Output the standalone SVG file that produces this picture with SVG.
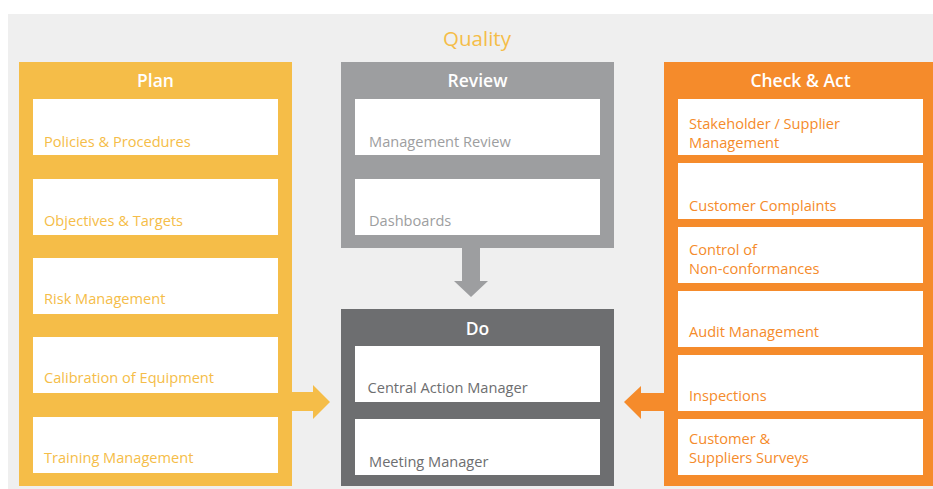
<svg xmlns="http://www.w3.org/2000/svg" width="933" height="489" viewBox="0 0 933 489">
<style>
text{font-family:"Open Sans","Liberation Sans",sans-serif}
.title{font-size:20.5px;fill:#F5BD48;text-anchor:middle}
.hdr{font-size:17.5px;font-weight:600;fill:#FFFFFF;text-anchor:middle}
.card{fill:#FFFFFF}
.t{font-size:14.6px}
.ty{fill:#F5BD48}
.tg{fill:#9D9EA0}
.td{fill:#6D6E70}
.to{fill:#F58B2B}
</style>
<rect x="8" y="14" width="925" height="475" fill="#EFEFEF"/>
<text class="title" x="477" y="46">Quality</text>

<g id="connectors">
  <polygon points="292,392 313,392 313,385 330,402 313,419 313,411 292,411" fill="#F5BD48"/>
  <polygon points="462,248 480,248 480,281 488,281 471,297 454,281 462,281" fill="#9D9EA0"/>
  <polygon points="664,393 641,393 641,386 624,402 641,419 641,411 664,411" fill="#F58B2B"/>
</g>

<g id="plan">
  <rect x="19" y="62" width="273" height="424" fill="#F5BD48"/>
  <text class="hdr" x="155.5" y="86.5">Plan</text>
  <g id="plan-1"><rect class="card" x="33" y="99" width="245" height="56"/><text class="t ty" x="44" y="146.5">Policies &amp; Procedures</text></g>
  <g id="plan-2"><rect class="card" x="33" y="179" width="245" height="56"/><text class="t ty" x="44" y="225.5">Objectives &amp; Targets</text></g>
  <g id="plan-3"><rect class="card" x="33" y="258" width="245" height="56"/><text class="t ty" x="44" y="304">Risk Management</text></g>
  <g id="plan-4"><rect class="card" x="33" y="337" width="245" height="56"/><text class="t ty" x="44" y="383">Calibration of Equipment</text></g>
  <g id="plan-5"><rect class="card" x="33" y="417" width="245" height="56"/><text class="t ty" x="44" y="463">Training Management</text></g>
</g>

<g id="review">
  <rect x="341" y="62" width="273" height="186" fill="#9D9EA0"/>
  <text class="hdr" x="477.5" y="86.5">Review</text>
  <g id="review-1"><rect class="card" x="355" y="99" width="245" height="56"/><text class="t tg" x="369" y="146.5">Management Review</text></g>
  <g id="review-2"><rect class="card" x="355" y="179" width="245" height="56"/><text class="t tg" x="369" y="225.5">Dashboards</text></g>
</g>

<g id="do">
  <rect x="341" y="309" width="273" height="177" fill="#6D6E70"/>
  <text class="hdr" x="477.5" y="334.5">Do</text>
  <g id="do-1"><rect class="card" x="355" y="346" width="245" height="56"/><text class="t td" x="367.5" y="393">Central Action Manager</text></g>
  <g id="do-2"><rect class="card" x="355" y="419" width="245" height="56"/><text class="t td" x="369" y="466.5">Meeting Manager</text></g>
</g>

<g id="check-act">
  <rect x="664" y="62" width="273" height="424" fill="#F58B2B"/>
  <text class="hdr" x="800.5" y="86.5">Check &amp; Act</text>
  <g id="ca-1"><rect class="card" x="678" y="99" width="245" height="56"/><text class="t to" x="689" y="129">Stakeholder / Supplier</text><text class="t to" x="689" y="147.5">Management</text></g>
  <g id="ca-2"><rect class="card" x="678" y="163" width="245" height="56"/><text class="t to" x="689" y="211">Customer Complaints</text></g>
  <g id="ca-3"><rect class="card" x="678" y="227" width="245" height="56"/><text class="t to" x="689" y="255">Control of</text><text class="t to" x="689" y="273.5">Non-conformances</text></g>
  <g id="ca-4"><rect class="card" x="678" y="291" width="245" height="56"/><text class="t to" x="689" y="337">Audit Management</text></g>
  <g id="ca-5"><rect class="card" x="678" y="355" width="245" height="56"/><text class="t to" x="689" y="401">Inspections</text></g>
  <g id="ca-6"><rect class="card" x="678" y="419" width="245" height="56"/><text class="t to" x="689" y="444">Customer &amp;</text><text class="t to" x="689" y="463">Suppliers Surveys</text></g>
</g>
</svg>
